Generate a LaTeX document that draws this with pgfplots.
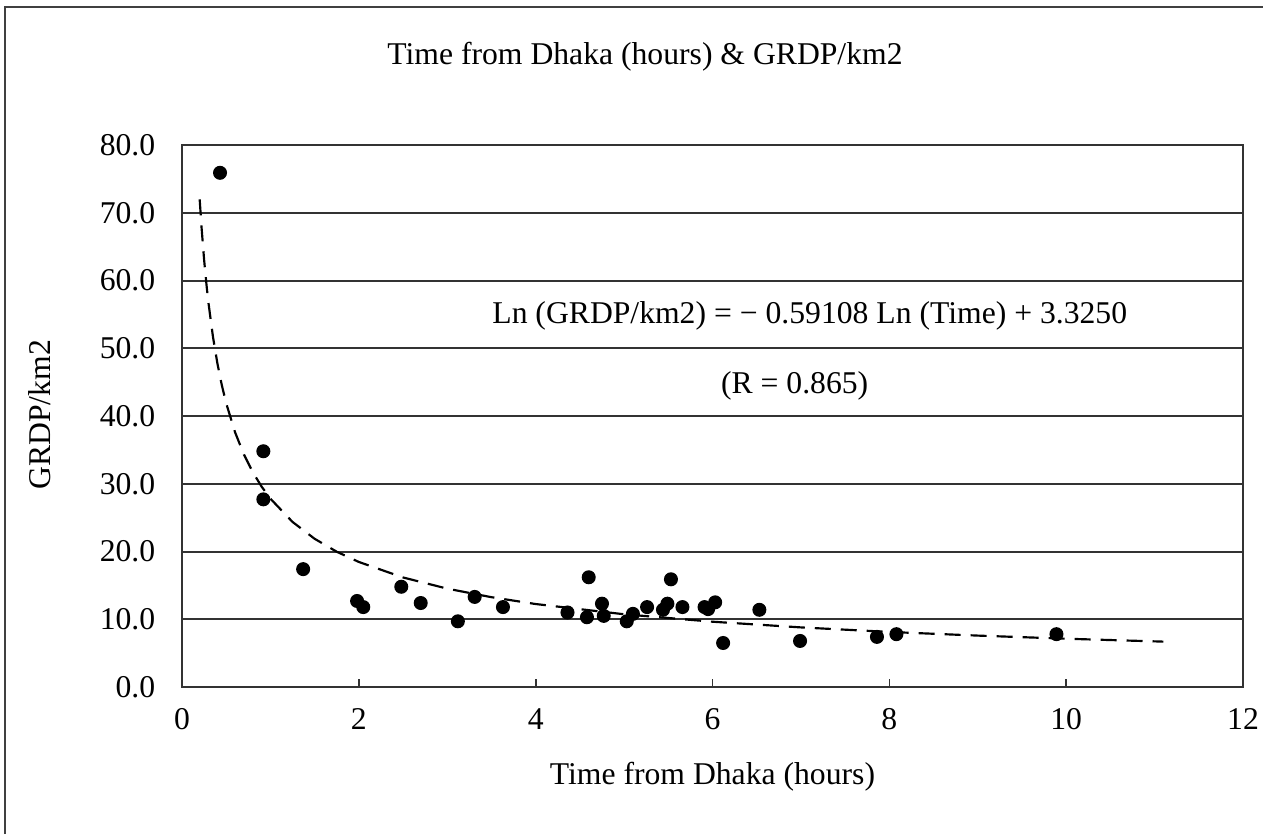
\documentclass[border=0pt]{standalone}
\usepackage{fontspec}
\setmainfont{Liberation Serif}
\usepackage{pgfplots}
\pgfplotsset{compat=1.18}
\begin{document}
\begin{tikzpicture}[font=\fontsize{9.5}{11.4}\selectfont]
\useasboundingbox (0,0) rectangle (378.9pt,250.2pt);
\draw[line width=0.6pt, black!75] (1.5pt,0) -- (1.5pt,248.1pt) -- (380pt,248.1pt);
\begin{axis}[
  at={(54.6pt,44.1pt)}, anchor=south west,
  scale only axis, width=318.3pt, height=162.6pt,
  xmin=0, xmax=12, ymin=0, ymax=80,
  xtick={0,2,...,12}, ytick={0,10,...,80},
  axis line style={line width=0.6pt, black!80},
  tick align=inside, xtick pos=bottom, ytick pos=left,
  major tick length=2.4pt,
  tick style={line width=0.5pt, black!80},
  ytick style={draw=none},
  ymajorgrids, grid style={line width=0.6pt, black!80},
  /pgf/number format/assume math mode=true,
  yticklabel style={/pgf/number format/.cd, fixed, fixed zerofill, precision=1, /tikz/.cd, xshift=-4.5pt},
  xticklabel style={yshift=-3pt},
  xlabel={Time from Dhaka (hours)},
  xlabel style={at={(axis description cs:0.5,-0.166)}, anchor=center},
  ylabel={GRDP/km2},
  ylabel style={at={(axis description cs:-0.134,0.502)}, anchor=center},
  clip=false,
]
\addplot[only marks, mark=*, mark size=1.9pt, black] coordinates {
(0.43,75.9) (0.92,34.8) (0.92,27.7) (1.37,17.4) (1.98,12.7) (2.05,11.8)
(2.48,14.8) (2.70,12.4) (3.12,9.7) (3.31,13.3) (3.63,11.8) (4.36,11.0)
(4.58,10.3) (4.60,16.2) (4.75,12.3) (4.77,10.5) (5.03,9.7) (5.10,10.8)
(5.26,11.8) (5.44,11.4) (5.49,12.3) (5.53,15.9) (5.66,11.8) (5.91,11.8)
(5.95,11.5) (6.03,12.5) (6.12,6.5) (6.53,11.4) (6.99,6.8) (7.86,7.4)
(8.08,7.8) (9.89,7.8)
};
\addplot[black, line width=0.65pt, dash pattern=on 4.8pt off 3pt] coordinates {
(0.2,71.97) (0.22,68.03) (0.25,63.07) (0.28,58.98) (0.3,56.63) (0.35,51.71)
(0.4,47.79) (0.45,44.57) (0.5,41.88) (0.6,37.60) (0.7,34.33) (0.8,31.72)
(0.9,29.59) (1.0,27.80) (1.25,24.37) (1.5,21.88) (1.75,19.97) (2,18.46)
(2.5,16.17) (3,14.52) (3.5,13.26) (4,12.25) (5,10.74) (6,9.64) (7,8.80)
(8,8.13) (9,7.59) (10,7.13) (11.1,6.70)
};
\node[anchor=center] at (axis cs:7.10,54.8) {Ln (GRDP/km2) = − 0.59108 Ln (Time) + 3.3250};
\node[anchor=center] at (axis cs:6.93,44.4) {(R = 0.865)};
\end{axis}
\node[anchor=center] at (193.5pt,233.1pt) {Time from Dhaka (hours) \& GRDP/km2};
\end{tikzpicture}
\end{document}
